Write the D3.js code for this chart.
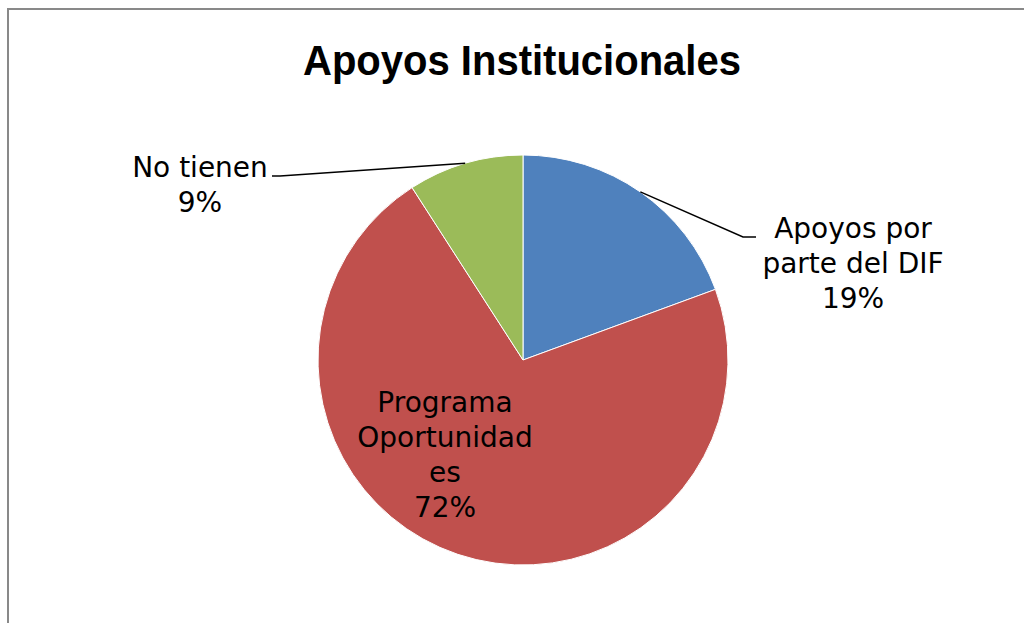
<!DOCTYPE html>
<html>
<head>
<meta charset="utf-8">
<script src="https://cdn.jsdelivr.net/npm/d3@7"></script>
<style>
  html, body { margin: 0; padding: 0; background: #fff; }
  svg { display: block; }
</style>
</head>
<body>
<svg id="chart" width="1024" height="623"></svg>
<script>
const categories = ["Apoyos por parte del DIF", "Programa Oportunidades", "No tienen"];
const values = [19.4, 71.5, 9.1];
const colors = ["#4F81BD", "#C0504D", "#9BBB59"];
const labelLines = [["Apoyos por", "parte del DIF"], ["Programa", "Oportunidad", "es"], ["No tienen"]];

const svg = d3.select("#chart");
const W = 1024, H = 623;

// frame
svg.append("rect").attr("x", 8).attr("y", 9).attr("width", W + 20).attr("height", H + 20)
  .attr("fill", "#fff").attr("stroke", "#898989").attr("stroke-width", 2);

// title
svg.append("text")
  .attr("x", 522).attr("y", 75)
  .attr("text-anchor", "middle")
  .attr("font-family", "'Liberation Sans Narrow', 'Arial Narrow', 'Liberation Sans', sans-serif")
  .attr("font-weight", "bold")
  .attr("font-size", 42)
  .attr("textLength", 438).attr("lengthAdjust", "spacingAndGlyphs")
  .attr("fill", "#000")
  .text("Apoyos Institucionales");

const cx = 523, cy = 360, R = 205;
const total = d3.sum(values);
const pie = d3.pie().sort(null).value(d => d)(values);
const arc = d3.arc().innerRadius(0).outerRadius(R);

const g = svg.append("g").attr("transform", `translate(${cx},${cy})`);
g.selectAll("path").data(pie).join("path")
  .attr("d", arc)
  .attr("fill", (d, i) => colors[i])
  .attr("stroke", "#fff").attr("stroke-width", 1);

const pct = v => Math.round(v / total * 100) + "%";
const font = "'DejaVu Sans', sans-serif";
const fs = 28;
const lh = 35;

function multiline(x, y, lines) {
  const t = svg.append("text")
    .attr("font-family", font).attr("font-size", fs)
    .attr("text-anchor", "middle").attr("fill", "#000");
  lines.forEach((l, k) => {
    t.append("tspan").attr("x", x).attr("y", y + k * lh).text(l);
  });
}

// helper: point on circle at mid-angle
function edgePoint(d, r) {
  const a = (d.startAngle + d.endAngle) / 2;
  return [cx + r * Math.sin(a), cy - r * Math.cos(a)];
}

// DIF label (outside, right)
{
  const d = pie[0];
  const p = edgePoint(d, R);
  svg.append("polyline")
    .attr("points", [p, [743, 237], [756, 237]].map(q => q.join(",")).join(" "))
    .attr("fill", "none").attr("stroke", "#000").attr("stroke-width", 1.5);
  multiline(853, 238, [...labelLines[0], pct(values[0])]);
}

// No tienen label (outside, left)
{
  const d = pie[2];
  const p = edgePoint(d, R);
  svg.append("polyline")
    .attr("points", [p, [280, 176], [272, 176]].map(q => q.join(",")).join(" "))
    .attr("fill", "none").attr("stroke", "#000").attr("stroke-width", 1.5);
  multiline(200, 177, [...labelLines[2], pct(values[2])]);
}

// Programa Oportunidades label (inside)
multiline(445, 412, [...labelLines[1], pct(values[1])]);
</script>
</body>
</html>
